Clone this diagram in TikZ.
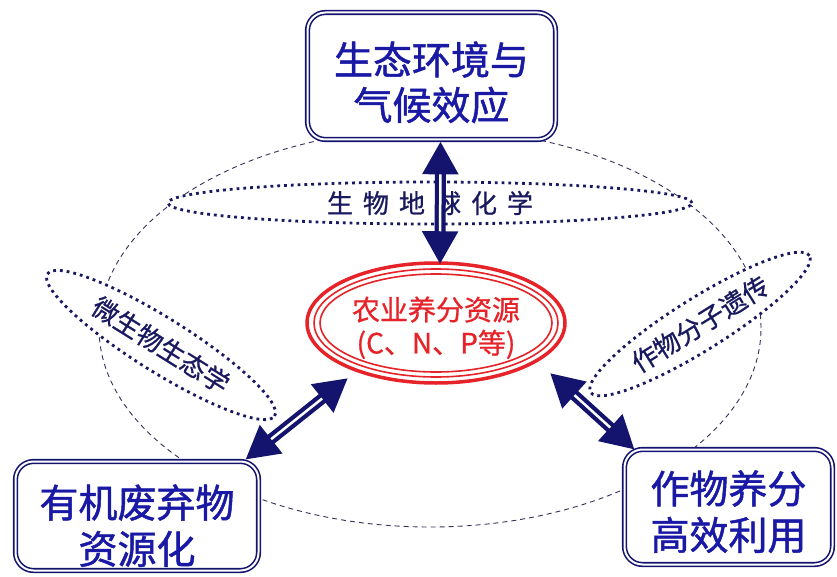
\documentclass[tikz,border=0pt]{standalone}
\usepackage{fontspec}
\newfontfamily\cjk{Noto Sans CJK SC}[FakeBold=1.2]
\newfontfamily\cjks{Noto Sans CJK SC}[FakeBold=0.8]
\usetikzlibrary{shapes.geometric,arrows.meta,calc}
\definecolor{navy}{RGB}{20,20,110}
\definecolor{boxtext}{RGB}{25,25,165}
\definecolor{dotcol}{RGB}{25,25,95}
\definecolor{nred}{RGB}{230,35,40}
\definecolor{dashcol}{RGB}{50,50,90}
\newcommand{\twolines}[3]{\raisebox{#1}[0pt][0pt]{\begin{tabular}{@{}c@{}}#2\\#3\end{tabular}}}
\begin{document}
\begin{tikzpicture}[x=1pt,y=-1pt,
  mainbox/.style={draw=navy, line width=1.6pt, double=white, double distance=2pt, rounded corners=18pt, fill=white, text=boxtext, align=center, inner sep=0pt, font=\cjk\fontsize{39}{45}\selectfont},
  dotell/.style={ellipse, draw=dotcol, fill=white, line width=2.8pt, dash pattern=on 2.8pt off 4pt, inner sep=0pt, text=dotcol, font=\cjks\fontsize{26}{30}\selectfont},
  bigarrow/.style={draw=navy, line width=11pt, {Triangle[width=34pt,length=33pt]}-{Triangle[width=34pt,length=33pt]}},
  arrowcore/.style={draw=white, line width=2.5pt, shorten <=33pt, shorten >=33pt}
]
\useasboundingbox (0,0) rectangle (837,577);
% big dashed ellipse
\draw[dashcol, line width=0.9pt, dash pattern=on 5pt off 4pt] (430,328) ellipse [x radius=331pt, y radius=199pt];
% dotted discipline ellipses
\node[dotell, minimum width=524pt, minimum height=42pt] (bgc) at (430,203) {生\hspace{10pt}物\hspace{10pt}地\hspace{10pt}球\hspace{10pt}化\hspace{10pt}学};
\node[dotell, rotate=-32, minimum width=268pt, minimum height=54pt] (micro) at (161,345) {微生物生态学};
\node[dotell, rotate=32, minimum width=258pt, minimum height=52pt] (gene) at (700,324) {作物分子遗传};
% boxes
\node[mainbox, minimum width=248pt, minimum height=127pt, font=\cjk\fontsize{39}{41}\selectfont] (eco) at (431.5,76) {\twolines{-17pt}{生态环境与}{气候效应}};
\node[mainbox, minimum width=243pt, minimum height=109pt] (waste) at (137,516) {\twolines{-21pt}{有机废弃物}{资源化}};
\node[mainbox, minimum width=208pt, minimum height=115pt] (crop) at (728.5,507) {\twolines{-16pt}{作物养分}{高效利用}};
% central nutrient ellipse
\node[ellipse, draw=nred, line width=3.5pt, fill=white, minimum width=258pt, minimum height=120pt, inner sep=0pt, text=nred, align=center, font=\cjks\fontsize{28}{32}\selectfont] (nut) at (436,323) {\twolines{-13pt}{农业养分资源}{(C、N、P等)}};
\draw[nred, line width=1.6pt] (nut.center) ellipse [x radius=122pt, y radius=54pt];
\draw[nred, line width=1.6pt] (nut.center) ellipse [x radius=116pt, y radius=49pt];
% arrows
\draw[bigarrow] ($(eco.south)+(9,1)$) -- ($(nut.north)+(4,3)$);
\draw[arrowcore] ($(eco.south)+(9,1)$) -- ($(nut.north)+(4,3)$);
\draw[bigarrow] ($(waste.north east)+(-14,-1)$) -- ($(nut.center)+(-88,55)$);
\draw[arrowcore] ($(waste.north east)+(-14,-1)$) -- ($(nut.center)+(-88,55)$);
\draw[bigarrow] ($(nut.center)+(114,50)$) -- ($(crop.north west)+(11,1)$);
\draw[arrowcore] ($(nut.center)+(114,50)$) -- ($(crop.north west)+(11,1)$);
\end{tikzpicture}
\end{document}
